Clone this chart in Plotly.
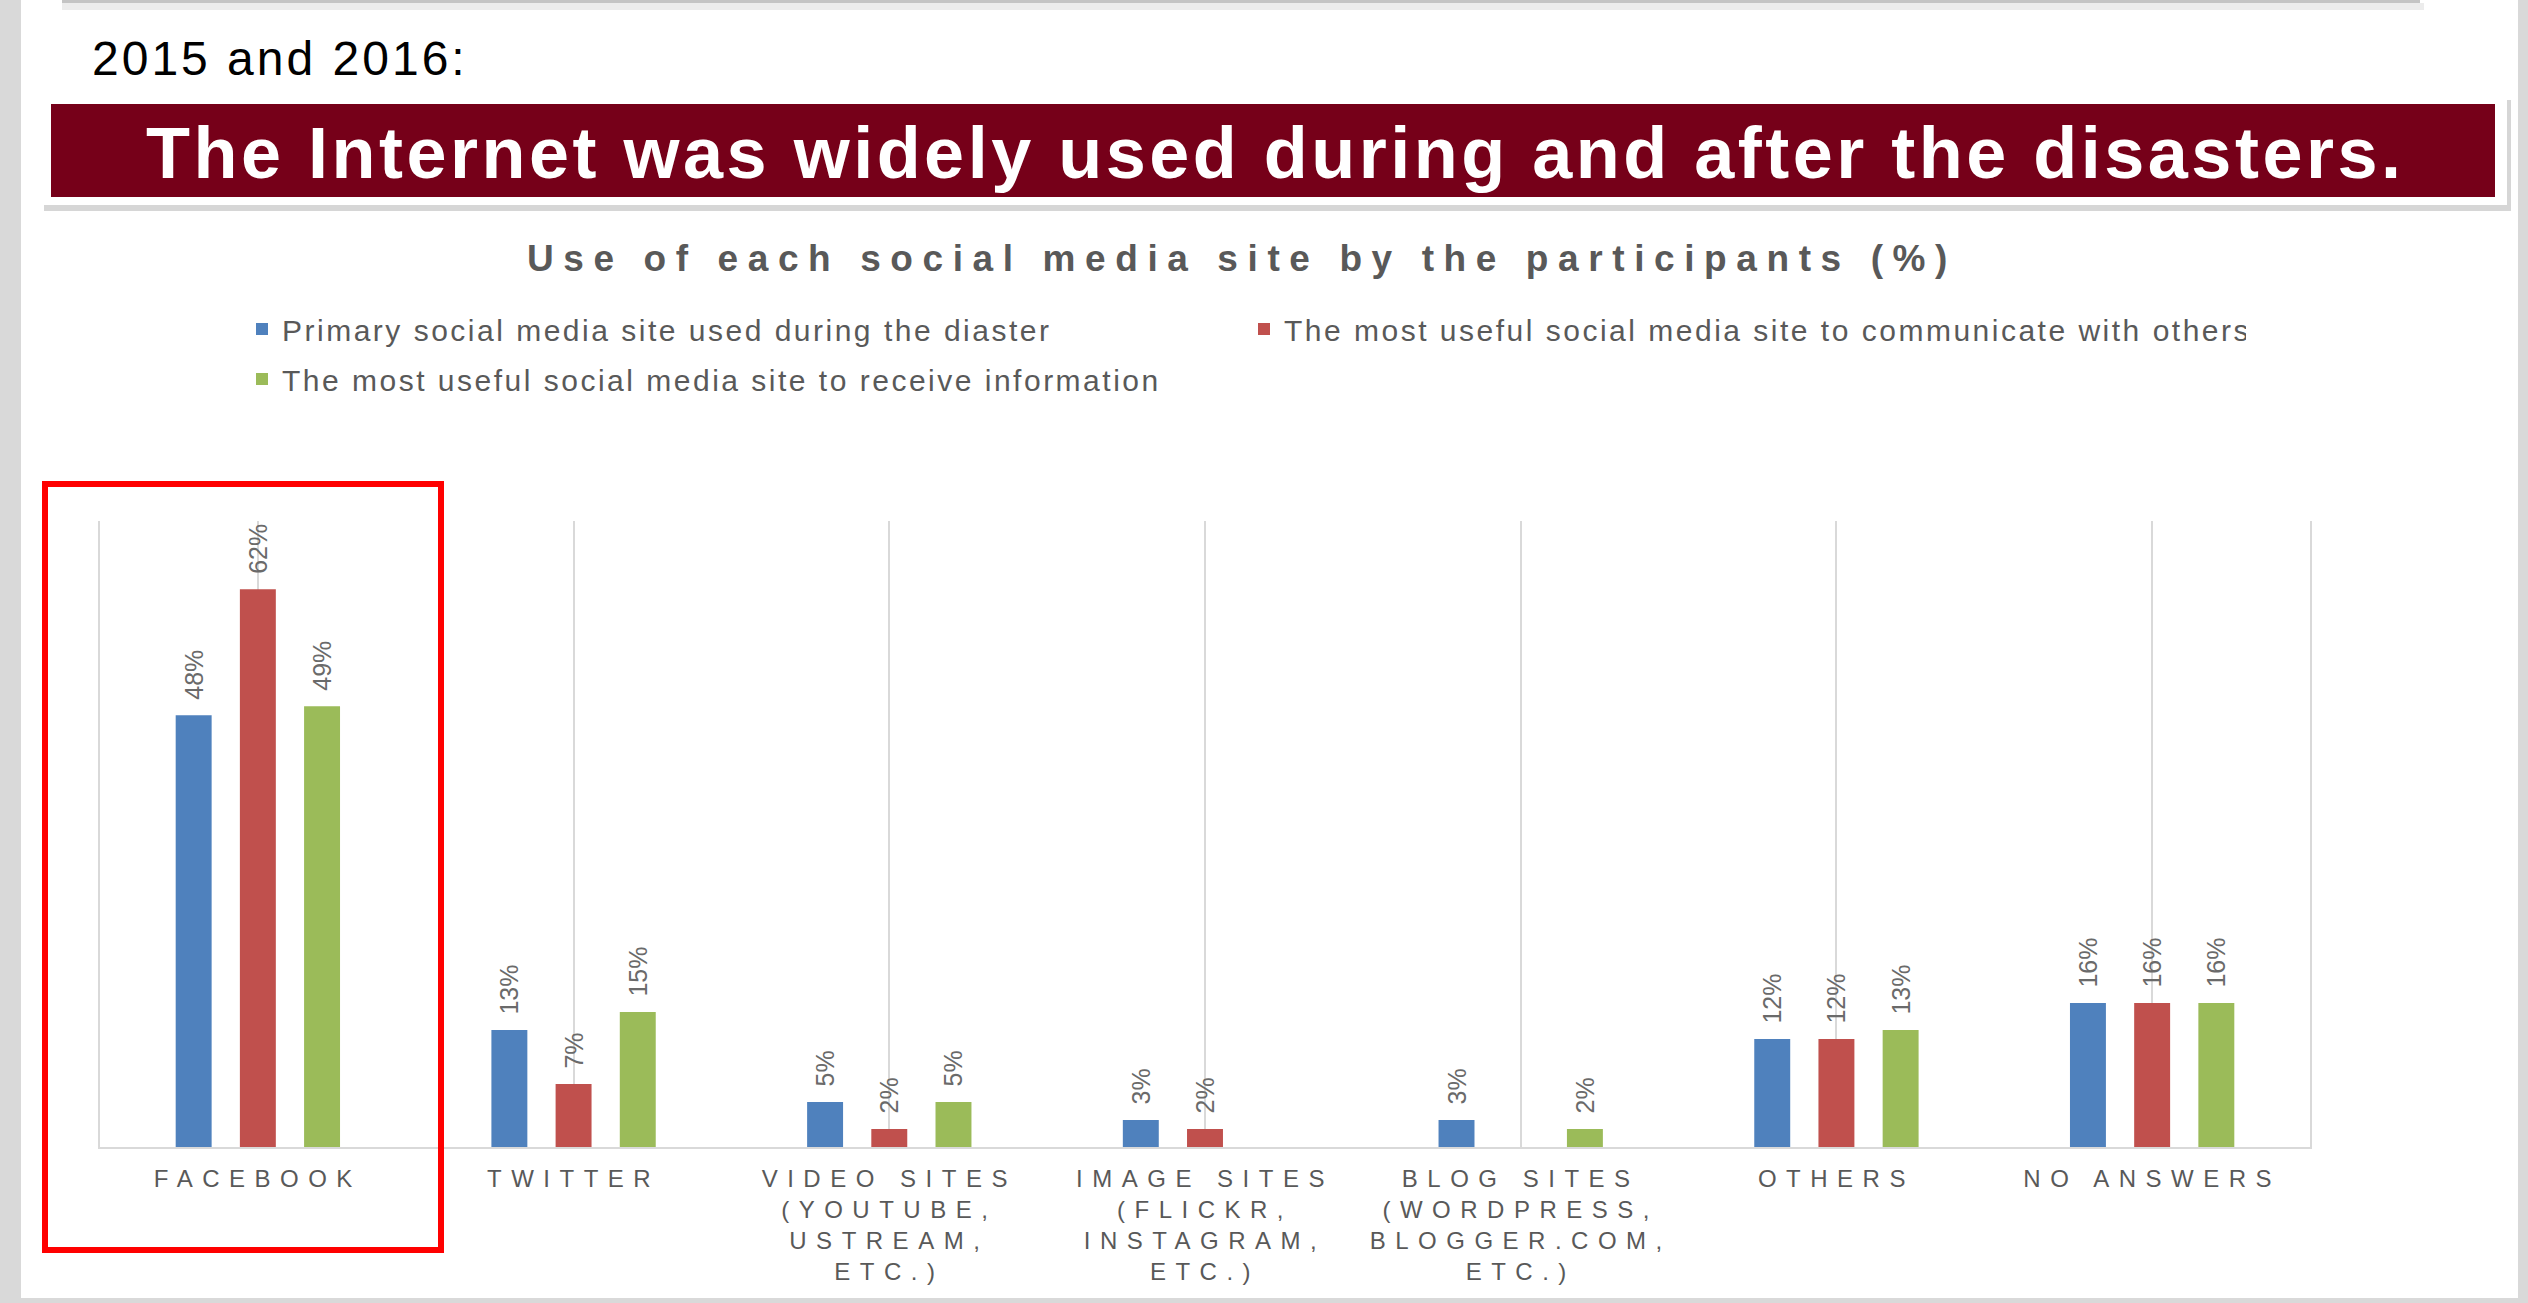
import plotly.graph_objects as go

# ---------------- data ----------------
categories = [
    "FACEBOOK",
    "TWITTER",
    "VIDEO SITES\n(YOUTUBE,\nUSTREAM,\nETC.)",
    "IMAGE SITES\n(FLICKR,\nINSTAGRAM,\nETC.)",
    "BLOG SITES\n(WORDPRESS,\nBLOGGER.COM,\nETC.)",
    "OTHERS",
    "NO ANSWERS",
]
series_names = [
    "Primary social media site used during the diaster",
    "The most useful social media site to communicate with others",
    "The most useful social media site to receive information",
]
primary_used = [48, 13, 5, 3, 3, 12, 16]
useful_communicate = [62, 7, 2, 2, None, 12, 16]
useful_receive = [49, 15, 5, None, 2, 13, 16]
series_values = [primary_used, useful_communicate, useful_receive]
series_colors = ["#4f81bd", "#c0504d", "#9bbb59"]
series_legends = ["legend", "legend", "legend2"]

page_heading = "2015 and 2016:"
banner_text = "The Internet was widely used during and after the disasters."
chart_title = "Use of each social media site by the participants (%)"

# ---------------- geometry helpers (layout only) ----------------
W, H = 2528, 1303
PL, PR, PT, PB = 100, 2310, 521, 1147  # plot area in pixels


def px(x):
    return (x - PL) / (PR - PL)


def py(y):
    return (PB - y) / (PB - PT)


FONT = "Liberation Sans, Arial, sans-serif"
GRAY = "#595959"


def spaced(s, sp):
    return "<br>".join(
        f"<span style='letter-spacing:{sp}px'>{line}</span>" for line in s.split("\n")
    )


fig = go.Figure()
x_idx = list(range(len(categories)))
for name, vals, col, lg in zip(series_names, series_values, series_colors, series_legends):
    fig.add_trace(
        go.Bar(
            x=x_idx,
            y=vals,
            name=spaced(name, 2.5),
            legend=lg,
            marker=dict(color=col, line=dict(width=0)),
            text=[("\u2002" + f"{v}%") if v is not None else "" for v in vals],
            textposition="outside",
            textangle=-90,
            textfont=dict(family=FONT, size=25, color="#6a6a6a"),
            constraintext="none",
            cliponaxis=False,
            hoverinfo="skip",
        )
    )

shapes = []
# gray page strips
for (x0, x1, y0, y1) in [(0, 21, 0, H), (2518, W, 0, H), (0, W, 1298, H)]:
    shapes.append(dict(type="rect", xref="paper", yref="paper",
                       x0=px(x0), x1=px(x1), y0=py(y0), y1=py(y1),
                       fillcolor="#d9d9d9", line=dict(width=0), layer="above"))
# top box remnant with shadow
shapes.append(dict(type="rect", xref="paper", yref="paper",
                   x0=px(62), x1=px(2424), y0=py(3), y1=py(10),
                   fillcolor="#ececec", line=dict(width=0), layer="above"))
shapes.append(dict(type="rect", xref="paper", yref="paper",
                   x0=px(62), x1=px(2420), y0=py(-5), y1=py(3),
                   fillcolor="#c4c4c4", line=dict(width=0), layer="above"))
# banner white box with shadow
shapes.append(dict(type="rect", xref="paper", yref="paper",
                   x0=px(44), x1=px(2511), y0=py(100), y1=py(211),
                   fillcolor="#d6d6d6", line=dict(width=0), layer="above"))
shapes.append(dict(type="rect", xref="paper", yref="paper",
                   x0=px(40), x1=px(2507), y0=py(96), y1=py(205),
                   fillcolor="#ffffff", line=dict(width=0), layer="above"))
shapes.append(dict(type="rect", xref="paper", yref="paper",
                   x0=px(51), x1=px(2495), y0=py(104), y1=py(197),
                   fillcolor="#760019", line=dict(width=0), layer="above"))
# red highlight frame
shapes.append(dict(type="rect", xref="paper", yref="paper",
                   x0=px(45), x1=px(441), y0=py(484), y1=py(1250),
                   fillcolor="rgba(0,0,0,0)", line=dict(color="#ff0000", width=6),
                   layer="above"))

annotations = [
    dict(text=spaced(page_heading, 3), xref="paper", yref="paper",
         x=px(90), y=py(58), xanchor="left", yanchor="middle", showarrow=False,
         font=dict(family=FONT, size=48, color="#000000")),
    dict(text=f"<b>{spaced(banner_text, 3.5)}</b>", xref="paper", yref="paper",
         x=px(1275), y=py(153), xanchor="center", yanchor="middle", showarrow=False,
         font=dict(family=FONT, size=72, color="#ffffff")),
    dict(text=f"<b>{spaced(chart_title, 9.6)}</b>", xref="paper", yref="paper",
         x=px(1242), y=py(258), xanchor="center", yanchor="middle", showarrow=False,
         font=dict(family=FONT, size=37, color=GRAY)),
]

legend_common = dict(
    orientation="h",
    xanchor="left",
    yanchor="middle",
    font=dict(family=FONT, size=30, color=GRAY),
    bgcolor="rgba(0,0,0,0)",
    traceorder="normal",
)

fig.update_layout(
    width=W,
    height=H,
    margin=dict(l=PL, r=W - PR, t=PT, b=H - PB, pad=0, autoexpand=False),
    paper_bgcolor="#ffffff",
    plot_bgcolor="#ffffff",
    barmode="group",
    bargap=0.39,
    bargroupgap=0.44,
    showlegend=True,
    legend=dict(legend_common, x=px(242), y=py(329), entrywidth=957),
    legend2=dict(legend_common, x=px(242), y=py(379)),
    xaxis=dict(
        tickmode="array",
        tickvals=x_idx,
        ticktext=[spaced(c, 9.5) for c in categories],
        range=[-0.5, len(categories) - 0.5],
        tickson="boundaries",
        ticks="",
        showgrid=True,
        gridcolor="#d9d9d9",
        gridwidth=2,
        showline=True,
        linecolor="#d9d9d9",
        linewidth=2,
        tickfont=dict(family=FONT, size=24, color=GRAY),
        ticklabelstandoff=9,
        zeroline=False,
        fixedrange=True,
        automargin=False,
    ),
    yaxis=dict(
        range=[0, 69.6],
        showticklabels=False,
        showgrid=False,
        zeroline=False,
        showline=True,
        mirror=True,
        linecolor="#d9d9d9",
        linewidth=2,
        ticks="",
        fixedrange=True,
        automargin=False,
    ),
    shapes=shapes,
    annotations=annotations,
)

fig.write_html("out.html")
